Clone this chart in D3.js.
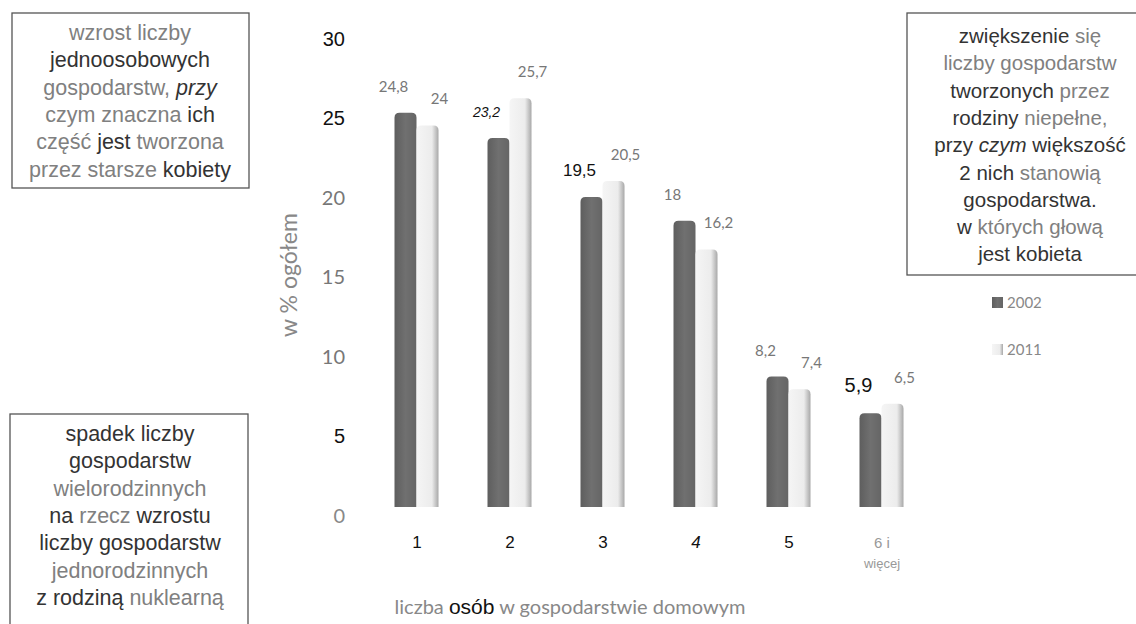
<!DOCTYPE html>
<html>
<head>
<meta charset="utf-8">
<script src="https://cdn.jsdelivr.net/npm/d3@7"></script>
<style>
  body { margin: 0; background: #fff; }
  svg { display: block; font-family: "Liberation Sans", Arial, sans-serif; font-weight: normal; }
</style>
</head>
<body>
<div id="chart"></div>
<script>
// data
const categories = ["1", "2", "3", "4", "5", "6 i więcej"];
const series = ["2002", "2011"];
const values2002 = [24.8, 23.2, 19.5, 18, 8.2, 5.9];
const values2011 = [24, 25.7, 20.5, 16.2, 7.4, 6.5];
const yTicks = [0, 5, 10, 15, 20, 25, 30];

const note1 = ["~wzrost ~liczby", "jednoosobowych", "~gospodarstw, _przy", "~czym ~znaczna ich",
  "~część jest ~tworzona", "~przez ~starsze kobiety"];
const note2 = ["spadek liczby", "gospodarstw", "~wielorodzinnych", "na ~rzecz wzrostu",
  "liczby gospodarstw", "~jednorodzinnych", "z rodziną ~nuklearną"];
const note3 = ["zwiększenie ~się", "~liczby ~gospodarstw", "tworzonych ~przez", "rodziny ~niepełne,",
  "przy _czym większość", "2 nich ~stanowią", "gospodarstwa.", "w ~których ~głową", "jest kobieta"];

const W = 1136, H = 624;
const svg = d3.select("#chart").append("svg")
  .attr("width", W).attr("height", H);

const defs = svg.append("defs");
const gDark = defs.append("linearGradient").attr("id", "gDark");
gDark.append("stop").attr("offset", "0%").attr("stop-color", "#5e5e5e");
gDark.append("stop").attr("offset", "50%").attr("stop-color", "#707070");
gDark.append("stop").attr("offset", "100%").attr("stop-color", "#656565");
const gLight = defs.append("linearGradient").attr("id", "gLight");
gLight.append("stop").attr("offset", "0%").attr("stop-color", "#f5f5f5");
gLight.append("stop").attr("offset", "70%").attr("stop-color", "#ececec");
gLight.append("stop").attr("offset", "100%").attr("stop-color", "#a8a8a8");

// scales
const y = d3.scaleLinear().domain([0, 30]).range([507, 30]);
const x0 = d3.scalePoint().domain(categories).range([370, 928]).padding(0.5);
const x1 = d3.scaleBand().domain(series).range([-22, 22]);
const fills = { "2002": "url(#gDark)", "2011": "url(#gLight)" };

// y axis, labels only
const tickCol = { 30: "#111", 25: "#111", 20: "#777", 15: "#777", 10: "#777", 5: "#111", 0: "#888" };
const yAxis = svg.append("g")
  .attr("transform", "translate(345,0)")
  .call(d3.axisLeft(y).tickValues(yTicks).tickSize(0).tickPadding(0));
yAxis.select(".domain").remove();
yAxis.selectAll("text")
  .attr("dy", "0.4em")
  .attr("transform", "translate(0,7)")
  .style("font-size", "20px")
  .style("font-family", d => tickCol[d] == "#111" ? "Liberation Sans, Arial" : "Lato, 'Open Sans', sans-serif")
  .style("fill", d => tickCol[d]);

svg.append("text")
  .attr("transform", "translate(297,275) rotate(-90)")
  .attr("text-anchor", "middle")
  .style("font-size", "23px")
  .style("font-family", "Lato, sans-serif")
  .style("fill", "#888")
  .text("w % ogółem");

// bars
function barPath(x, w, top, bottom) {
  const r = Math.min(5, (bottom - top) / 2);
  return `M${x},${bottom}V${top + r}Q${x},${top} ${x + r},${top}H${x + w - r}Q${x + w},${top} ${x + w},${top + r}V${bottom}Z`;
}

const rows = categories.map((c, i) => ({ cat: c, vals: [
  { s: "2002", v: values2002[i] }, { s: "2011", v: values2011[i] }] }));

const groups = svg.append("g").selectAll("g")
  .data(rows).join("g")
  .attr("transform", d => `translate(${x0(d.cat)},0)`);

groups.selectAll("path")
  .data(d => d.vals).join("path")
  .attr("d", d => barPath(x1(d.s), x1.bandwidth(), y(d.v), y(0)))
  .attr("fill", d => fills[d.s]);

// value labels
const fmt = v => String(v).replace(".", ",");
const blackLabels = { "19.5": 17, "5.9": 20, "23.2": 14 };
groups.selectAll("text.val")
  .data(d => d.vals).join("text")
  .attr("class", "val")
  .attr("x", d => x1(d.s) + x1.bandwidth() / 2 + (d.s == "2002" ? -12 : 12))
  .attr("y", d => y(d.v) - 21)
  .attr("text-anchor", "middle")
  .style("font-size", d => (blackLabels[d.v] || 15) + "px")
  .style("font-style", d => d.v == 23.2 ? "italic" : "normal")
  .style("font-family", d => blackLabels[d.v] ? "Liberation Sans, Arial" : "Lato, sans-serif")
  .style("fill", d => blackLabels[d.v] ? "#111" : "#777")
  .text(d => fmt(d.v));

// x axis labels
const xAxis = svg.append("g")
  .attr("transform", `translate(0,${y(0)})`)
  .call(d3.axisBottom(x0).tickSize(0).tickPadding(0));
xAxis.select(".domain").remove();
xAxis.selectAll("text").remove();
xAxis.selectAll(".tick").each(function (d) {
  const t = d3.select(this).append("text")
    .attr("text-anchor", "middle")
    .attr("y", 41)
    .style("font-size", "17px")
    .style("fill", "#111")
    .style("font-style", d == "4" ? "italic" : "normal");
  const parts = d.split(" i ");
  if (parts.length > 1) {
    t.style("fill", "#999").style("font-size", "15px");
    t.append("tspan").attr("x", 0).text(parts[0] + " i");
    t.append("tspan").attr("x", 0).attr("dy", 20).style("font-size", "13px").text(parts[1]);
  } else {
    t.text(d);
  }
});

const xTitle = svg.append("text")
  .attr("x", 570).attr("y", 614)
  .attr("text-anchor", "middle")
  .style("font-size", "20px")
  .style("font-family", "Lato, sans-serif")
  .style("fill", "#888");
xTitle.append("tspan").text("liczba ");
xTitle.append("tspan").style("fill", "#111").style("font-family", "Liberation Sans, Arial").style("font-size", "21px").text("osób");
xTitle.append("tspan").text(" w gospodarstwie domowym");

// legend
const legend = svg.append("g").selectAll("g")
  .data(series).join("g")
  .attr("transform", (d, i) => `translate(1007,${303 + i * 47})`);
legend.append("rect")
  .attr("x", -15).attr("y", -6).attr("width", 11).attr("height", 11)
  .attr("fill", d => fills[d]);
legend.append("text")
  .attr("y", 5)
  .style("font-size", "15px")
  .style("font-family", "Lato, sans-serif")
  .style("fill", "#888")
  .text(d => d);

// note boxes
function noteBox(lines, bx, by, bw, bh, cx, firstY, size) {
  svg.append("rect")
    .attr("x", bx).attr("y", by).attr("width", bw).attr("height", bh)
    .attr("fill", "none").attr("stroke", "#555").attr("stroke-width", 1.3);
  const t = svg.append("g").selectAll("text")
    .data(lines).join("text")
    .attr("x", cx).attr("y", (d, i) => firstY + i * 27.3)
    .attr("text-anchor", "middle")
    .style("font-size", size + "px");
  t.each(function (line) {
    const el = d3.select(this);
    line.split(" ").forEach((w, k) => {
      const sp = el.append("tspan").text((k ? " " : "") + w.replace(/^[~_]/, ""));
      if (w[0] == "~") sp.style("fill", "#808080");
      else sp.style("fill", "#333");
      if (w[0] == "_") sp.style("font-style", "italic");
    });
  });
}
noteBox(note1, 12, 13, 237, 175, 130, 40, 21.5);
noteBox(note2, 10, 414, 238, 215, 130, 441, 21.5);
noteBox(note3, 907, 13, 235, 262, 1030, 43, 20.5);
</script>
</body>
</html>
